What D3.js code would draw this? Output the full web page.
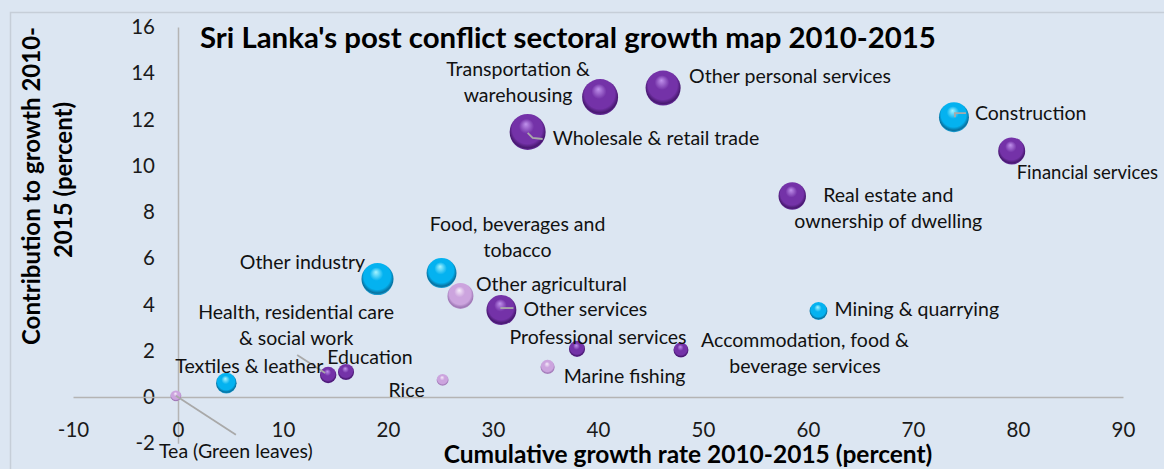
<!DOCTYPE html>
<html>
<head>
<meta charset="utf-8">
<script src="https://cdn.jsdelivr.net/npm/d3@7"></script>
<style>
  html, body { margin: 0; padding: 0; background: #dce6f2; overflow: hidden; }
  svg { display: block; font-family: Lato, "Noto Sans", sans-serif; }
</style>
</head>
<body>
<div id="viz"></div>
<script>
// sector data
const sectors = [
  "Tea (Green leaves)", "Textiles & leather", "Health, residential care & social work",
  "Education", "Rice", "Other industry", "Food, beverages and tobacco",
  "Other agricultural", "Other services", "Professional services", "Marine fishing",
  "Accommodation, food & beverage services", "Mining & quarrying",
  "Real estate and ownership of dwelling", "Construction", "Financial services",
  "Wholesale & retail trade", "Transportation & warehousing", "Other personal services"
];
const growth =       [-0.2, 4.6, 14.3, 16.0, 25.2, 19.0, 25.1, 26.9, 30.8, 38.0, 35.2, 47.9, 61.0, 58.5, 73.9, 79.4, 33.3, 40.2, 46.2];
const contribution = [0.05, 0.6, 0.95, 1.08, 0.74, 5.1, 5.36, 4.37, 3.76, 2.08, 1.3, 2.03, 3.72, 8.69, 12.1, 10.64, 11.46, 12.97, 13.36];
const gdpShare =     [1.0, 3.6, 2.3, 2.2, 1.2, 8.7, 7.6, 5.7, 7.6, 2.2, 1.7, 1.9, 2.7, 6.4, 7.6, 6.2, 11.0, 11.0, 10.4];
const sectorGroup = ["agri", "industry", "services", "services", "agri", "industry", "industry",
  "agri", "services", "services", "agri", "services", "industry", "services", "industry",
  "services", "services", "services", "services"];
const xTicks = [-10, 0, 10, 20, 30, 40, 50, 60, 70, 80, 90];
const yTicks = [-2, 0, 2, 4, 6, 8, 10, 12, 14, 16];

// label placement (pixel offsets from bubble centre)
const labelLayout = {
  "Tea (Green leaves)": { lines: ["Tea (Green leaves)"], anchor: "middle", dx: 60, dy: 55, leader: [[0, 0], [60, 39]] },
  "Textiles & leather": { lines: ["Textiles & leather"], anchor: "middle", dx: 23, dy: -17 },
  "Health, residential care & social work": { lines: ["Health, residential care", "& social work"], anchor: "middle", dx: -32, dy: -63, leader: [[-31, -20], [-3, -2]] },
  "Education": { lines: ["Education"], anchor: "middle", dx: 24, dy: -15 },
  "Rice": { lines: ["Rice"], anchor: "middle", dx: -36, dy: 10 },
  "Other industry": { lines: ["Other industry"], anchor: "middle", dx: -75, dy: -17 },
  "Food, beverages and tobacco": { lines: ["Food, beverages and", "tobacco"], anchor: "middle", dx: 76, dy: -49 },
  "Other agricultural": { lines: ["Other agricultural"], anchor: "middle", dx: 91, dy: -12 },
  "Other services": { lines: ["Other services"], anchor: "start", dx: 22, dy: -1, leader: [[-1, -2], [12, -2]] },
  "Professional services": { lines: ["Professional services"], anchor: "middle", dx: 21, dy: -12 },
  "Marine fishing": { lines: ["Marine fishing"], anchor: "middle", dx: 77, dy: 9 },
  "Accommodation, food & beverage services": { lines: ["Accommodation, food &", "beverage services"], anchor: "middle", dx: 124, dy: -10 },
  "Mining & quarrying": { lines: ["Mining & quarrying"], anchor: "start", dx: 16, dy: -2 },
  "Real estate and ownership of dwelling": { lines: ["Real estate and", "ownership of dwelling"], anchor: "middle", dx: 96, dy: -1 },
  "Construction": { lines: ["Construction"], anchor: "start", dx: 21, dy: -4, leader: [[1, 0], [1, -4], [12, -4]] },
  "Financial services": { lines: ["Financial services"], anchor: "start", dx: 5, dy: 22, fontSize: 18.5 },
  "Wholesale & retail trade": { lines: ["Wholesale & retail trade"], anchor: "start", dx: 25, dy: 6, leader: [[0, 1], [5, 6], [15, 7]] },
  "Transportation & warehousing": { lines: ["Transportation &", "warehousing"], anchor: "middle", dx: -82, dy: -28 },
  "Other personal services": { lines: ["Other personal services"], anchor: "start", dx: 26, dy: -12 }
};

const width = 1164;
const height = 469;

const svg = d3.select("#viz")
  .append("svg")
  .attr("width", width)
  .attr("height", height);

svg.append("rect")
  .attr("width", width)
  .attr("height", height)
  .attr("fill", "#dce6f2");

// chart area border
svg.append("rect")
  .attr("x", 10.5)
  .attr("y", 12.5)
  .attr("width", 1300)
  .attr("height", 600)
  .attr("fill", "none")
  .attr("stroke", "#c6ced8")
  .attr("stroke-width", 1.5);

// sphere gradients, one per sector group
const palette = {
  agri:     { hi: "#f6ecfa", mid: "#cca4de", lo: "#9f78b6", rim: "#b795cb" },
  industry: { hi: "#a6f4ff", mid: "#04b2f0", lo: "#08709e", rim: "#1fa6dc" },
  services: { hi: "#c092ec", mid: "#7432a8", lo: "#481870", rim: "#6a2ea0" }
};
const defs = svg.append("defs");
Object.entries(palette).forEach(([k, c]) => {
  const g = defs.append("radialGradient")
    .attr("id", "ball-" + k)
    .attr("cx", "50%").attr("cy", "45%").attr("r", "55%")
    .attr("fx", "45%").attr("fy", "28%");
  g.append("stop").attr("offset", "0%").attr("stop-color", c.hi);
  g.append("stop").attr("offset", "38%").attr("stop-color", c.mid);
  g.append("stop").attr("offset", "76%").attr("stop-color", c.mid);
  g.append("stop").attr("offset", "92%").attr("stop-color", c.lo);
  g.append("stop").attr("offset", "100%").attr("stop-color", c.rim);
});

const x = d3.scaleLinear().domain([-10, 90]).range([73, 1123]);
const y = d3.scaleLinear().domain([-2, 16]).range([443.25, 27]);
const r = d3.scaleSqrt().domain([0, 11]).range([0, 18]);

const axisColor = "#b4b4b4";

const yAxis = svg.append("g")
  .attr("transform", `translate(${x(0)},0)`)
  .call(d3.axisLeft(y).tickValues(yTicks).tickFormat(d => String(d)).tickSize(0).tickPadding(23));
const xAxis = svg.append("g")
  .attr("transform", `translate(0,${y(0)})`)
  .call(d3.axisBottom(x).tickValues(xTicks).tickFormat(d => String(d)).tickSize(0).tickPadding(25));

[xAxis, yAxis].forEach(a => {
  a.select(".domain").attr("stroke", axisColor).attr("stroke-width", 1.5);
  a.selectAll("text")
    .attr("font-family", "Lato, 'Noto Sans', sans-serif")
    .attr("font-size", 20.5)
    .attr("fill", "#1a1a1a");
});

// titles
svg.append("text")
  .attr("x", 200)
  .attr("y", 48)
  .attr("font-size", 29.4)
  .attr("font-weight", "bold")
  .attr("fill", "#000")
  .text("Sri Lanka's post conflict sectoral growth map 2010-2015");

svg.append("text")
  .attr("x", 688)
  .attr("y", 463)
  .attr("text-anchor", "middle")
  .attr("font-size", 24.5)
  .attr("font-weight", "bold")
  .attr("fill", "#000")
  .text("Cumulative growth rate 2010-2015 (percent)");

const yTitle = svg.append("text")
  .attr("transform", "translate(0,186) rotate(-90)")
  .attr("text-anchor", "middle")
  .attr("font-size", 24)
  .attr("font-weight", "bold")
  .attr("fill", "#000");
yTitle.append("tspan").attr("x", 0).attr("y", 40).text("Contribution to growth 2010-");
yTitle.append("tspan").attr("x", 6).attr("y", 72).text("2015 (percent)");

const points = sectors.map((name, i) => ({
  name,
  gx: growth[i],
  cy: contribution[i],
  size: gdpShare[i],
  group: sectorGroup[i]
}));

// bubbles, biggest drawn first
svg.append("g")
  .selectAll("circle")
  .data(points.slice().sort((a, b) => b.size - a.size))
  .enter()
  .append("circle")
  .attr("cx", d => x(d.gx))
  .attr("cy", d => y(d.cy))
  .attr("r", d => r(d.size))
  .attr("fill", d => `url(#ball-${d.group})`);

// leader lines
const line = d3.line();
svg.append("g")
  .selectAll("path")
  .data(points.filter(d => labelLayout[d.name].leader))
  .enter()
  .append("path")
  .attr("d", d => line(labelLayout[d.name].leader.map(p => [x(d.gx) + p[0], y(d.cy) + p[1]])))
  .attr("fill", "none")
  .attr("stroke", "#a9a9a9")
  .attr("stroke-width", 1.8);

// data labels
const labels = svg.append("g")
  .selectAll("text")
  .data(points)
  .enter()
  .append("text")
  .attr("font-size", d => labelLayout[d.name].fontSize || 19.5)
  .attr("fill", "#111")
  .attr("text-anchor", d => labelLayout[d.name].anchor);

labels.each(function(d) {
  const L = labelLayout[d.name];
  const t = d3.select(this);
  L.lines.forEach((s, j) => {
    t.append("tspan")
      .attr("x", x(d.gx) + L.dx)
      .attr("y", y(d.cy) + L.dy + j * 26)
      .attr("dy", "0.35em")
      .text(s);
  });
});
</script>
</body>
</html>
